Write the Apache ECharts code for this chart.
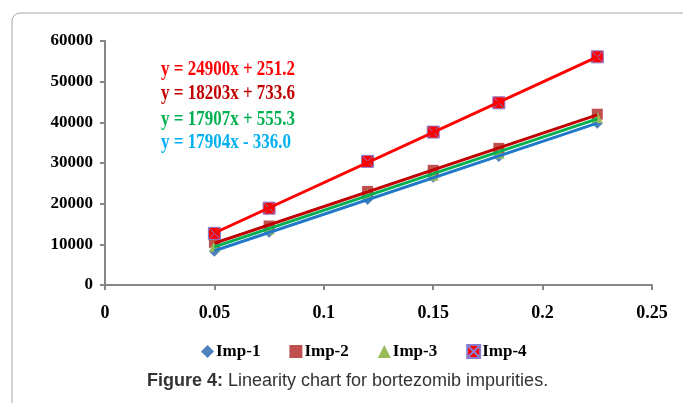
<!DOCTYPE html>
<html><head><meta charset="utf-8">
<script src="https://cdn.jsdelivr.net/npm/echarts@6/dist/echarts.min.js"></script>
<style>html,body{margin:0;padding:0;background:#fff}#c{width:683px;height:403px}</style>
</head><body><div id="c"></div>
<script>
const xValues = [0.05, 0.075, 0.12, 0.15, 0.18, 0.225];
const imp1 = [8300, 13000, 21000, 26500, 31600, 39800];
const imp2 = [10500, 14500, 23000, 28200, 33600, 42000];
const imp3 = [9500, 13800, 22300, 27000, 32400, 41200];
const imp4 = [12700, 18900, 30400, 37600, 44800, 56100];
const seriesNames = ['Imp-1', 'Imp-2', 'Imp-3', 'Imp-4'];
const equations = ['y = 24900x + 251.2', 'y = 18203x + 733.6', 'y = 17907x + 555.3', 'y = 17904x - 336.0'];
const caption = ['Figure 4:', ' Linearity chart for bortezomib impurities.'];
const xTicks = [0, 0.05, 0.1, 0.15, 0.2, 0.25];
const yTicks = [0, 10000, 20000, 30000, 40000, 50000, 60000];

function fit(xs, ys) {
  const n = xs.length;
  let sx = 0, sy = 0, sxx = 0, sxy = 0;
  for (let i = 0; i < n; i++) { sx += xs[i]; sy += ys[i]; sxx += xs[i]*xs[i]; sxy += xs[i]*ys[i]; }
  const m = (n*sxy - sx*sy) / (n*sxx - sx*sx);
  const b = (sy - m*sx) / n;
  const x0 = Math.min(...xs), x1 = Math.max(...xs);
  return [[x0, m*x0 + b], [x1, m*x1 + b]];
}
const pts = ys => xValues.map((x, i) => [x, ys[i]]);
const allData = [imp1, imp2, imp3, imp4];
const markerColors = ['#4F81BD', '#C0504D', '#9BBB59', '#FF0000'];
const lineColors = ['#1F78C8', '#C00000', '#00B050', '#FF0000'];
const eqColors = ['#FF0000', '#C00000', '#00B050', '#00B0F0'];
const symbols = ['diamond', 'rect', 'triangle', 'path://M0,0H10V10H0Z M0,0L10,10 M10,0L0,10'];
const symbolSizes = [11, 11, 11, 12];

const series = [];
allData.forEach((ys, i) => {
  series.push({
    name: seriesNames[i], type: 'scatter', data: pts(ys),
    symbol: symbols[i], symbolSize: symbolSizes[i], z: 2,
    itemStyle: i === 3 ? { color: '#FF0000', borderColor: '#8A7FD0', borderWidth: 1, opacity: 1 } : { color: markerColors[i], opacity: 1 }
  });
});
[0, 2, 1, 3].forEach(i => {
  series.push({
    name: seriesNames[i] + ' trend', type: 'line', data: fit(xValues, allData[i]),
    symbol: 'none', z: 3 + i, silent: true,
    lineStyle: { color: lineColors[i], width: 3 }
  });
});

const serif = '"Liberation Serif", "Times New Roman", serif';
const sans = '"Liberation Sans", Arial, sans-serif';
const graphics = [
  { type: 'rect', shape: { x: 12, y: 13, width: 720, height: 440, r: 8 }, style: { fill: 'none', stroke: '#A6A6A6', lineWidth: 1 }, silent: true },
  { type: 'text', x: 147, y: 372, style: {
      text: '{b|' + caption[0] + '}' + caption[1],
      font: '18px ' + sans, fill: '#333',
      rich: { b: { font: 'bold 18px ' + sans, fill: '#333' } }
  } }
];
equations.forEach((t, i) => {
  graphics.push({ type: 'text', x: 161, y: 60 + [0, 24, 50, 73][i], scaleX: 0.85, style: { text: t, font: 'bold 20px ' + serif, fill: eqColors[i] } });
});

const chart = echarts.init(document.getElementById('c'));
chart.setOption({
  animation: false,
  grid: { left: 105, right: 31, top: 41, bottom: 118 },
  xAxis: { type: 'value', min: xTicks[0], max: xTicks[xTicks.length-1], interval: 0.05,
    axisLine: { lineStyle: { color: '#868686', width: 2 } },
    axisTick: { show: true, length: 5, lineStyle: { color: '#868686', width: 2 } },
    splitLine: { show: false },
    axisLabel: { margin: 19, color: '#000', fontFamily: serif, fontWeight: 'bold', fontSize: 18 } },
  yAxis: { type: 'value', min: yTicks[0], max: yTicks[yTicks.length-1], interval: 10000,
    axisLine: { show: true, lineStyle: { color: '#868686', width: 2 } },
    axisTick: { show: true, length: 5, lineStyle: { color: '#868686', width: 2 } },
    splitLine: { show: false },
    axisLabel: { margin: 12, color: '#000', fontFamily: serif, fontWeight: 'bold', fontSize: 17, formatter: v => String(v) } },
  legend: { data: seriesNames, top: 338, left: 196, itemGap: 29, itemWidth: 13, itemHeight: 13,
    textStyle: { fontFamily: serif, fontWeight: 'bold', fontSize: 17, color: '#000', padding: [0, 0, 0, -3] } },
  graphic: graphics,
  series: series
});
</script></body></html>
